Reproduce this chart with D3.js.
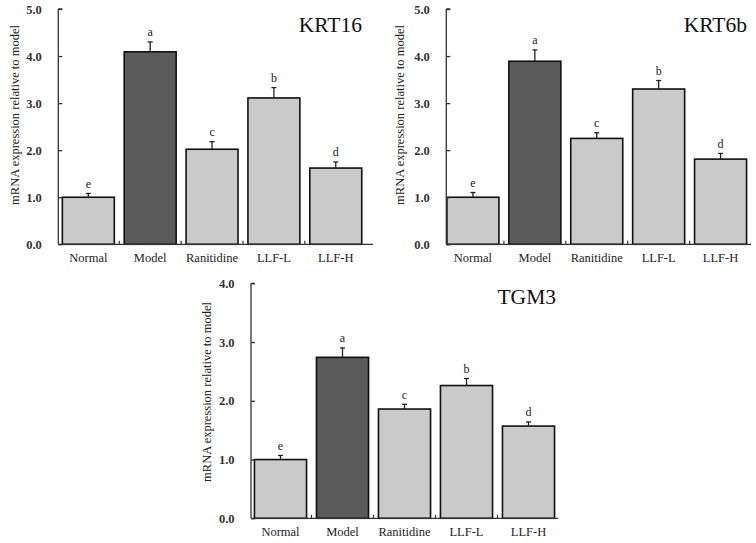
<!DOCTYPE html>
<html><head><meta charset="utf-8">
<script src="https://cdn.jsdelivr.net/npm/d3@7"></script>
<style>
html,body{margin:0;padding:0;background:#fff;}
svg{display:block;}
</style></head>
<body>
<svg id="chart" width="756" height="543" font-family="Liberation Serif, serif"></svg>
<script>
const categories = ["Normal","Model","Ranitidine","LLF-L","LLF-H"];
const letters = ["e","a","c","b","d"];
const krt16Values = [1.00, 4.09, 2.02, 3.11, 1.62];
const krt16Errors = [0.08, 0.21, 0.16, 0.22, 0.13];
const krt6bValues = [1.00, 3.89, 2.25, 3.30, 1.81];
const krt6bErrors = [0.10, 0.24, 0.12, 0.18, 0.12];
const tgm3Values = [1.00, 2.74, 1.86, 2.26, 1.57];
const tgm3Errors = [0.07, 0.16, 0.08, 0.12, 0.07];
const yTicks5 = [0,1,2,3,4,5];
const yTicks4 = [0,1,2,3,4];
const yLabel = "mRNA expression relative to model";
const FONT = "Liberation Serif";

const panels = [
  {title:"KRT16", values:krt16Values, errors:krt16Errors, ymax:5, ticks:yTicks5,
   axisX:58.3, xr:[57.4,366.7], axisEnd:373, yr:[244.3,9], titleX:362, titleY:31.7, labX:15, labY:115},
  {title:"KRT6b", values:krt6bValues, errors:krt6bErrors, ymax:5, ticks:yTicks5,
   axisX:446.3, xr:[442,751.5], axisEnd:751, yr:[244.3,9], titleX:747, titleY:31.7, labX:400, labY:115},
  {title:"TGM3", values:tgm3Values, errors:tgm3Errors, ymax:4, ticks:yTicks4,
   axisX:251, xr:[249.5,559.5], axisEnd:558, yr:[518.3,283.3], titleX:556, titleY:304, labX:207, labY:392}
];

const svg = d3.select("#chart");

panels.forEach(p => {
  const g = svg.append("g").attr("font-family", FONT);
  const x = d3.scaleBand().domain(categories).range(p.xr).paddingInner(0.16).paddingOuter(0.08);
  const y = d3.scaleLinear().domain([0,p.ymax]).range(p.yr);

  // bars
  g.selectAll("rect.bar").data(categories).join("rect")
    .attr("x", d => x(d)).attr("width", x.bandwidth())
    .attr("y", (d,i) => y(p.values[i])).attr("height", (d,i) => y(0) - y(p.values[i]))
    .attr("fill", d => d === "Model" ? "#5a5a5a" : "#cacaca")
    .attr("stroke", "#111").attr("stroke-width", 1.6);

  // error bars
  categories.forEach((c,i) => {
    const cx = x(c) + x.bandwidth()/2;
    const top = y(p.values[i] + p.errors[i]);
    g.append("line").attr("x1",cx).attr("x2",cx).attr("y1",y(p.values[i])).attr("y2",top)
      .attr("stroke","#222").attr("stroke-width",1.3);
    g.append("line").attr("x1",cx-2.5).attr("x2",cx+2.5).attr("y1",top).attr("y2",top)
      .attr("stroke","#222").attr("stroke-width",1.3);
    g.append("text").attr("x",cx).attr("y",top-5.5).attr("text-anchor","middle")
      .attr("font-family",FONT).attr("font-size",12).attr("fill","#222").text(letters[i]);
  });

  // y axis
  const ya = d3.axisRight(y).tickValues(p.ticks).tickFormat(d3.format(".1f")).tickSize(4).tickPadding(0);
  const yg = g.append("g").attr("transform",`translate(${p.axisX},0)`).call(ya);
  yg.attr("font-family", FONT);
  yg.select(".domain").attr("d", `M0,${y(p.ymax)}H4M0,${y(p.ymax)}V${y(0)}`).attr("stroke","#333").attr("stroke-width",1.3);
  yg.selectAll(".tick line").attr("stroke","#333").attr("stroke-width",1.3);
  yg.selectAll(".tick text").attr("x",-16.5).attr("text-anchor","end")
    .attr("font-size",12.5).attr("font-weight","bold").attr("font-family",FONT).attr("fill","#333");

  // x axis
  const xg = g.append("g").attr("transform",`translate(0,${y(0)})`);
  xg.append("line").attr("x1",p.axisX).attr("x2",p.axisEnd).attr("y1",0).attr("y2",0)
    .attr("stroke","#333").attr("stroke-width",1.3);
  const step = x.step();
  categories.slice(1).forEach(c => {
    const bx = x(c) - step*0.08;
    xg.append("line").attr("x1",bx).attr("x2",bx).attr("y1",0).attr("y2",-3.5)
      .attr("stroke","#333").attr("stroke-width",1.2);
  });
  xg.selectAll("text.cat").data(categories).join("text")
    .attr("x", d => x(d) + x.bandwidth()/2).attr("y", 18)
    .attr("text-anchor","middle").attr("font-family",FONT).attr("font-size",12.5).attr("fill","#222").text(d => d);

  // title
  g.append("text").attr("x",p.titleX).attr("y",p.titleY).attr("text-anchor","end")
    .attr("font-family",FONT).attr("font-size",21.5).attr("fill","#111").text(p.title);

  // y label
  g.append("text").attr("transform",`translate(${p.labX},${p.labY}) rotate(-90)`)
    .attr("text-anchor","middle").attr("dy","0.35em").attr("font-family",FONT)
    .attr("font-size",12.5).attr("fill","#222").text(yLabel);
});
</script>
</body></html>
